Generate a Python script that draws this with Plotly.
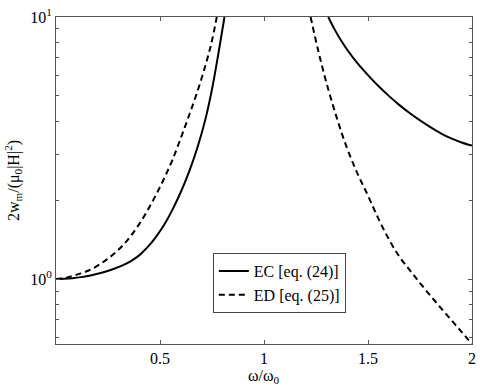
import plotly.graph_objects as go

# EC [eq. (24)] - solid, two branches (below and above resonance)
ec_low_x = [0, 0.04, 0.08, 0.12, 0.16, 0.20, 0.24, 0.28, 0.32, 0.36, 0.40, 0.44, 0.48, 0.52, 0.56,
            0.60, 0.64, 0.68, 0.72, 0.75, 0.78, 0.81]
ec_low_y = [1.0, 1.0018, 1.0074, 1.0167, 1.0299, 1.0471, 1.069, 1.095, 1.1276, 1.1711, 1.2308, 1.3227,
            1.4462, 1.6106, 1.8408, 2.148, 2.57, 3.177, 4.121, 5.297, 7.194, 10]
ec_high_x = [1.309, 1.34, 1.37, 1.40, 1.45, 1.50, 1.55, 1.60, 1.65, 1.70, 1.75, 1.80, 1.85, 1.90, 1.95, 2.0]
ec_high_y = [10, 8.95, 8.15, 7.5, 6.65, 6.0, 5.45, 5.0, 4.62, 4.3, 4.03, 3.8, 3.6, 3.44, 3.32, 3.23]

# ED [eq. (25)] - dashed
ed_low_x = [0, 0.04, 0.08, 0.12, 0.16, 0.20, 0.24, 0.28, 0.32, 0.36, 0.40, 0.44, 0.48, 0.52, 0.56,
            0.60, 0.64, 0.68, 0.72, 0.748, 0.773]
ed_low_y = [1.0, 1.0069, 1.027, 1.0507, 1.08, 1.1246, 1.1803, 1.2503, 1.34, 1.4622, 1.62, 1.8281,
            2.0893, 2.421, 2.851, 3.451, 4.217, 5.2, 6.6, 8.0, 10]
ed_high_x = [1.224, 1.26, 1.30, 1.35, 1.40, 1.45, 1.50, 1.55, 1.60, 1.65, 1.70, 1.75, 1.80, 1.85, 1.90, 1.95, 2.0]
ed_high_y = [10, 7.48, 5.62, 4.12, 3.145, 2.52, 2.08, 1.70, 1.42, 1.22, 1.083, 0.965, 0.864, 0.776,
             0.698, 0.628, 0.564]

x_tick_vals = [0.5, 1, 1.5, 2]
x_tick_text = ["0.5", "1", "1.5", "2"]
y_tick_vals = [1, 10]
y_tick_text = ["10<sup>0</sup>", "10<sup>1</sup>"]
y_minor_vals = [0.6, 0.7, 0.8, 0.9, 2, 3, 4, 5, 6, 7, 8, 9]

FONT = "Times New Roman"
AX = "#555555"

fig = go.Figure()
fig.add_trace(go.Scatter(
    x=ec_low_x + [None] + ec_high_x, y=ec_low_y + [None] + ec_high_y,
    mode="lines", name="EC [eq. (24)]", connectgaps=False,
    line=dict(color="black", width=2, shape="spline", smoothing=1.0)))
fig.add_trace(go.Scatter(
    x=ed_low_x + [None] + ed_high_x, y=ed_low_y + [None] + ed_high_y,
    mode="lines", name="ED [eq. (25)]", connectgaps=False,
    line=dict(color="black", width=2, dash="6px,4px", shape="spline", smoothing=1.0)))

fig.update_layout(
    width=480, height=389,
    margin=dict(l=56, r=8, t=17, b=45),
    paper_bgcolor="white", plot_bgcolor="white",
    font=dict(family=FONT, size=16, color="black"),
    showlegend=True,
    legend=dict(x=0.377, y=0.278, xanchor="left", yanchor="top",
                bordercolor="#444444", borderwidth=1, bgcolor="white",
                font=dict(family=FONT, size=16), tracegroupgap=0),
    annotations=[dict(text="ω/ω<sub>0</sub>", xref="paper", yref="paper", x=0.5, y=0,
                      xanchor="center", yanchor="top", yshift=-22, showarrow=False,
                      borderpad=0, font=dict(family=FONT, size=16))],
)
fig.update_xaxes(
    range=[0, 2], tickvals=x_tick_vals, ticktext=x_tick_text, automargin=False,
    ticks="inside", ticklen=4, tickcolor=AX, showline=True, linecolor=AX,
    linewidth=1, mirror="ticks", showgrid=False, zeroline=False,
)
fig.update_yaxes(
    type="log", range=[-0.248, 1], tickvals=y_tick_vals, ticktext=y_tick_text, automargin=False,
    ticks="inside", ticklen=4, tickcolor=AX, showline=True, linecolor=AX,
    linewidth=1, mirror="ticks", showgrid=False, zeroline=False,
    minor=dict(tickvals=y_minor_vals, ticks="inside", ticklen=3, tickcolor=AX, showgrid=False),
    title=dict(text="2w<sub>m</sub>/(μ<sub>0</sub>|H|<sup>2</sup>)", standoff=6,
               font=dict(family=FONT, size=16)),
)

# remove the page's default 8px body margin so the figure sits at the window's corner
fig.write_html("out.html", config={"displayModeBar": False},
               post_script="document.body.style.margin='0px';")
